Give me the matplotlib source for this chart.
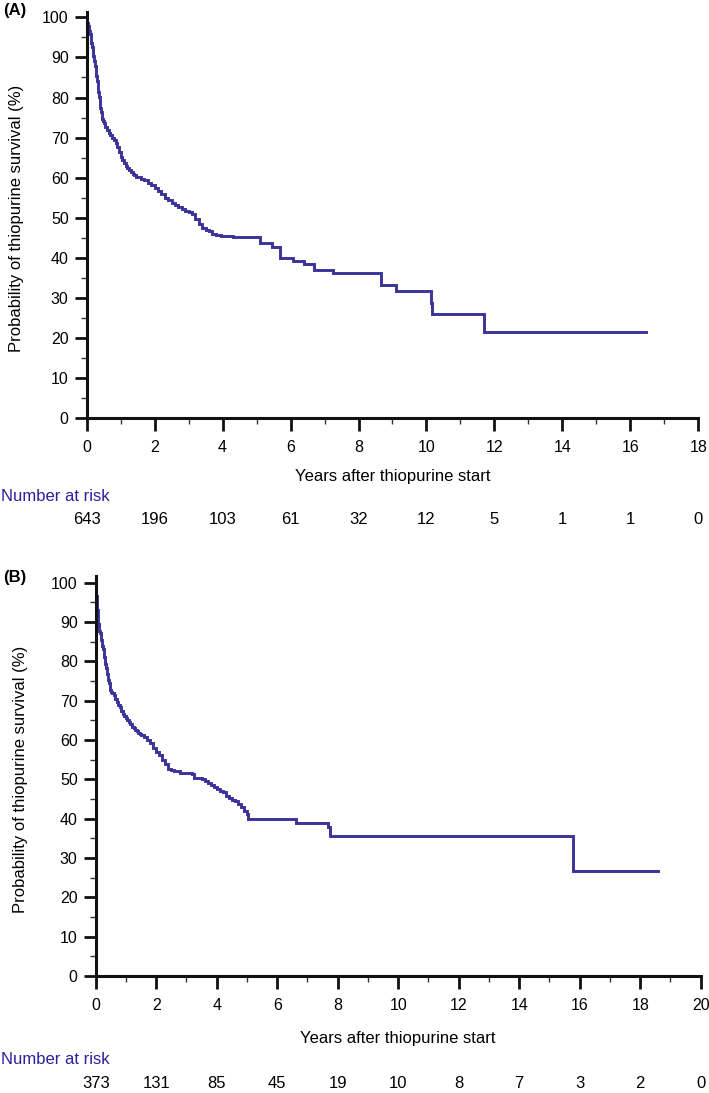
import matplotlib
matplotlib.use("Agg")
import matplotlib.pyplot as plt
from matplotlib.transforms import blended_transform_factory
from matplotlib.ticker import MultipleLocator

plt.rcParams['font.family'] = ['Liberation Sans', 'DejaVu Sans']

# ---------------- Data ----------------
# Panel A: Kaplan-Meier steps (years, survival %)
time_a = [0, .02, .04, .06, .08, .10, .12, .14, .16, .18, .20, .22, .24, .26, .28, .30,
          .32, .34, .36, .38, .40, .42, .44, .46, .48,
          .50, .55, .60, .65, .70, .75, .80, .85, .90, .95, 1.00, 1.05, 1.10, 1.15,
          1.20, 1.25, 1.30, 1.35, 1.40, 1.45,
          1.5, 1.6, 1.7, 1.8, 1.9, 2.0, 2.1, 2.2, 2.3, 2.4, 2.5, 2.6, 2.7, 2.8, 2.9,
          3.0, 3.1, 3.2, 3.3, 3.4, 3.5, 3.6, 3.7, 3.8, 3.95, 4.3,
          5.1, 5.45, 5.7, 6.08, 6.4, 6.7, 7.25, 8.65, 9.1, 10.12, 10.17, 11.7, 16.46]
surv_a = [100, 98.6, 97.8, 97.2, 96.6, 95.8, 94.8, 93.7, 92.6, 91.6, 90.4, 89.2, 87.9,
          86.6, 85.3, 84.0, 82.7, 81.4, 80.1, 78.8, 77.5, 76.4, 75.3, 74.7, 74.2,
          73.6, 72.7, 71.9, 71.2, 70.6, 70.0, 69.3, 68.6, 67.6, 66.4, 65.2, 64.3, 63.6,
          63.0, 62.5, 62.0, 61.5, 61.0, 60.6, 60.3,
          60.1, 59.8, 59.4, 58.8, 58.1, 57.5, 56.8, 55.9, 55.0, 54.5, 53.8, 53.3, 52.8,
          52.2, 51.8, 51.5, 51.0, 49.8, 48.5, 47.5, 47.0, 46.8, 46.0, 45.7, 45.5, 45.1,
          43.7, 42.8, 40.0, 39.3, 38.4, 37.1, 36.2, 33.3, 31.7, 28.8, 25.9, 21.5, 21.5]
risk_times_a = [0, 2, 4, 6, 8, 10, 12, 14, 16, 18]
risk_a = [643, 196, 103, 61, 32, 12, 5, 1, 1, 0]

# Panel B
time_b = [0, .02, .04, .06, .08, .10, .12, .14, .16, .18, .20, .22, .24, .26, .28, .30,
          .32, .34, .36, .38, .40, .42, .44, .46, .48,
          .50, .55, .60, .65, .70, .75, .80, .85, .90, .95, 1.0, 1.05, 1.1, 1.15, 1.2,
          1.25, 1.3, 1.35, 1.4, 1.45,
          1.5, 1.6, 1.7, 1.8, 1.9, 2.0, 2.1, 2.2, 2.3, 2.4, 2.5, 2.6, 2.8, 3.0, 3.17,
          3.25, 3.5, 3.6, 3.7, 3.8, 3.9, 4.0, 4.1, 4.2, 4.3, 4.4, 4.5, 4.6, 4.7, 4.8,
          4.9, 5.0, 5.05, 6.62, 7.69, 7.75, 15.79, 18.58]
surv_b = [100, 96.5, 93.0, 90.8, 89.5, 88.6, 87.8, 87.1, 86.3, 85.5, 84.7, 83.9, 83.1,
          82.1, 81.1, 80.2, 79.3, 78.4, 77.6, 76.8, 76.0, 75.2, 74.4, 73.6, 72.8,
          72.3, 72.0, 71.4, 70.4, 69.6, 69.0, 68.4, 67.5, 66.6, 66.0, 65.5, 65.0, 64.5,
          64.0, 63.4, 63.0, 62.6, 62.2, 61.9, 61.6,
          61.2, 60.7, 60.1, 59.2, 58.0, 57.0, 56.1, 55.0, 54.0, 52.6, 52.4, 52.2, 51.6,
          51.5, 51.4, 50.3, 50.0, 49.6, 49.0, 48.6, 48.0, 47.5, 47.1, 46.7, 45.8, 45.2,
          44.8, 44.5, 43.8, 43.0, 42.0, 41.2, 40.0, 39.0, 37.8, 35.6, 26.6, 26.6]
risk_times_b = [0, 2, 4, 6, 8, 10, 12, 14, 16, 18, 20]
risk_b = [373, 131, 85, 45, 19, 10, 8, 7, 3, 2, 0]

panel_labels = ["(A)", "(B)"]
xlabel = "Years after thiopurine start"
ylabel = "Probability of thiopurine survival (%)"
risk_title = "Number at risk"
yticks = [0, 10, 20, 30, 40, 50, 60, 70, 80, 90, 100]

# ---------------- Layout ----------------
W, H = 709, 1093
fig = plt.figure(figsize=(W / 100, H / 100), dpi=100)

curve_color = '#3a3399'
risk_color = '#2e1f9c'


def rect(l, r, top, bottom):
    return [l / W, 1 - bottom / H, (r - l) / W, (bottom - top) / H]


def fy(py):
    return 1 - py / H


panels = [
    dict(rect=rect(86.7, 698.3, 11.7, 418.3), ylim=101.4, xmax=18, xt=time_a, yv=surv_a,
         rt=risk_times_a, rv=risk_a, lab_xy=(3, 11), ylab_xy=(17, 218),
         xlab_y=476, risk_title_y=497, risk_y=520),
    dict(rect=rect(95.7, 700.7, 576, 976), ylim=101.7, xmax=20, xt=time_b, yv=surv_b,
         rt=risk_times_b, rv=risk_b, lab_xy=(3, 577), ylab_xy=(21, 779),
         xlab_y=1038, risk_title_y=1060, risk_y=1083.5),
]

for i, p in enumerate(panels):
    ax = fig.add_axes(p['rect'])
    ax.step(p['xt'], p['yv'], where='post', color=curve_color, lw=2.1, solid_joinstyle='miter')
    ax.set_xlim(0, p['xmax'])
    ax.set_ylim(0, p['ylim'])
    ax.spines['top'].set_visible(False)
    ax.spines['right'].set_visible(False)
    for s in ('left', 'bottom'):
        ax.spines[s].set_linewidth(2.2)
        ax.spines[s].set_color('#111111')
    ax.set_yticks(yticks)
    ax.yaxis.set_minor_locator(MultipleLocator(5))
    ax.xaxis.set_major_locator(MultipleLocator(2))
    ax.xaxis.set_minor_locator(MultipleLocator(1))
    ax.tick_params(which='major', direction='out', length=9, width=2.0, color='#111111',
                   labelsize=11.5)
    ax.tick_params(which='minor', direction='out', length=4.5, width=1.0, color='#333333')
    ax.tick_params(axis='y', which='major', pad=4)
    ax.tick_params(axis='x', which='major', pad=6.5)

    # panel label
    fig.text(p['lab_xy'][0] / W, fy(p['lab_xy'][1]), panel_labels[i], fontsize=12,
             fontweight='bold', ha='left', va='center')
    # y label
    fig.text(p['ylab_xy'][0] / W, fy(p['ylab_xy'][1]), ylabel, rotation=90, fontsize=12,
             ha='center', va='center')
    # x label
    ax_center = p['rect'][0] + p['rect'][2] / 2
    fig.text(ax_center, fy(p['xlab_y']), xlabel, fontsize=12, ha='center', va='center')
    # number at risk
    fig.text(1 / W, fy(p['risk_title_y']), risk_title, fontsize=12, color=risk_color,
             ha='left', va='center')
    tr = blended_transform_factory(ax.transData, fig.transFigure)
    for t, n in zip(p['rt'], p['rv']):
        ax.text(t, fy(p['risk_y']), str(n), transform=tr, fontsize=12, ha='center',
                va='center', clip_on=False)

fig.savefig('out.png', dpi=100)
